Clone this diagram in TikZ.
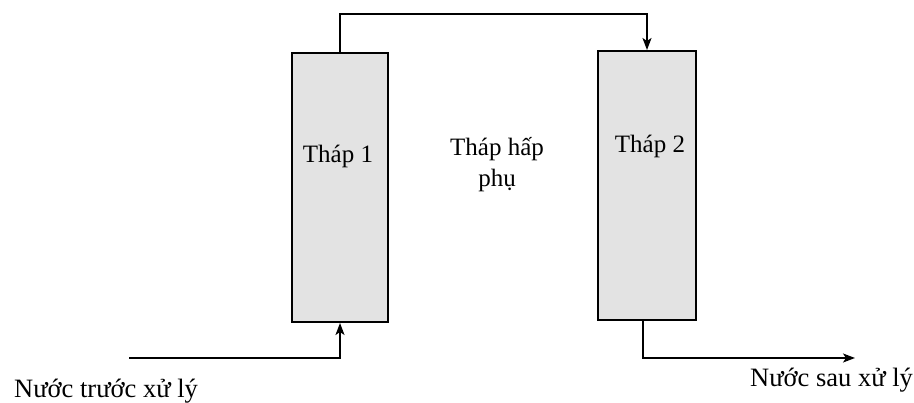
\documentclass[tikz,border=0pt]{standalone}
\usepackage{fontspec}
\setmainfont{Liberation Serif}
\usetikzlibrary{arrows.meta, positioning}

\begin{document}
\begin{tikzpicture}[x=1pt, y=-1pt,
  tower/.style={rectangle, draw=black, line width=2pt, fill=gray!22, minimum width=96pt, minimum height=269pt, inner sep=0pt},
  flow/.style={-{Stealth[length=12pt, width=9pt, inset=3pt]}, line width=1.8pt, black},
  label/.style={font=\fontsize{25}{31}\selectfont, inner sep=0pt},
  sidelabel/.style={font=\fontsize{26.5}{31}\selectfont, inner sep=0pt}
]
\useasboundingbox (0,0) rectangle (914,403);

\node[tower] (t1) at (340,187.5) {};
\node[tower, minimum width=98pt] (t2) at (647,185.5) {};

\node[label, anchor=base] (t1label) at (338,163) {Tháp 1};
\node[label, anchor=base] (t2label) at (650,153) {Tháp 2};
\node[label, align=center, anchor=base] (mid) at (497,187) {Tháp hấp\\phụ};

\coordinate (in) at (129,358);
\coordinate (out) at (855,358);

\draw[flow] (t1.north) -- ++(0,-38) -| (t2.north);
\draw[flow] (in) -| (t1.south);
\draw[flow] ([xshift=-4pt]t2.south) |- (out);

\node[sidelabel, anchor=base west] (inlabel) at (14,398) {Nước trước xử lý};
\node[sidelabel, anchor=base west] (outlabel) at (750,387) {Nước sau xử lý};
\end{tikzpicture}
\end{document}
